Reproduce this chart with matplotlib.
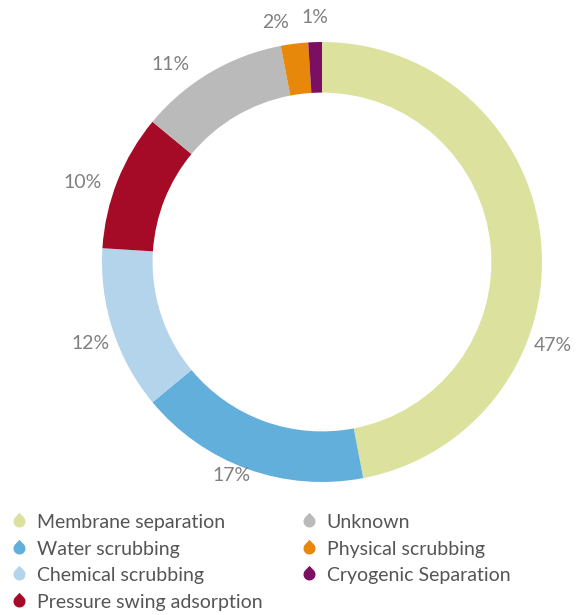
import numpy as np
import matplotlib.pyplot as plt
from matplotlib.path import Path
from matplotlib.lines import Line2D

plt.rcParams['font.family'] = ['Lato', 'DejaVu Sans']

# data, clockwise from the top
methods = ["Membrane separation", "Water scrubbing", "Chemical scrubbing",
           "Pressure swing adsorption", "Unknown", "Physical scrubbing",
           "Cryogenic Separation"]
shares = [47, 17, 12, 10, 11, 2, 1]
colors = ["#dce29e", "#63afdc", "#b4d4eb", "#a50a26", "#bababa", "#e8880a",
          "#7b1062"]

# where each percentage label sits (data coords, donut radius = 1)
label_xy = [(1.05, -0.38), (-0.41, -0.97), (-1.05, -0.37), (-1.09, 0.36),
            (-0.69, 0.90), (-0.21, 1.09), (-0.03, 1.11)]


def drop_marker():
    """Teardrop outline with the point upward."""
    apex = 1.45
    half = np.degrees(np.arccos(1 / apex))
    t = np.radians(np.linspace(90 + half, 90 - half + 360, 60))
    verts = [(0, apex)] + list(zip(np.cos(t), np.sin(t))) + [(0, apex)]
    return Path(verts, closed=True)


fig = plt.figure(figsize=(5.76, 6.15), dpi=100)
ax = fig.add_axes([102 / 576, 133 / 615, 440 / 576, 440 / 615])
ax.pie(shares, colors=colors, startangle=90, counterclock=False,
       radius=1, wedgeprops=dict(width=0.23, linewidth=0))
ax.set_xlim(-1, 1)
ax.set_ylim(-1, 1)
ax.set_aspect("equal")
ax.axis("off")

for val, (x, y) in zip(shares, label_xy):
    ax.text(x, y, "%d%%" % val, ha="center", va="center", fontsize=14,
            color="#808080", clip_on=False)

marker = drop_marker()
handles = [Line2D([], [], linestyle="none", marker=marker, markersize=12.5,
                  markerfacecolor=c, markeredgewidth=0) for c in colors]
fig.legend(handles, methods, loc="upper left", ncol=2,
           bbox_to_anchor=(0.005, 109 / 615), frameon=False, fontsize=14,
           labelcolor="#555555", handlelength=0.9, handletextpad=0.45,
           labelspacing=0.5, columnspacing=1.95, borderaxespad=0)

fig.savefig("out.png", dpi=100)
